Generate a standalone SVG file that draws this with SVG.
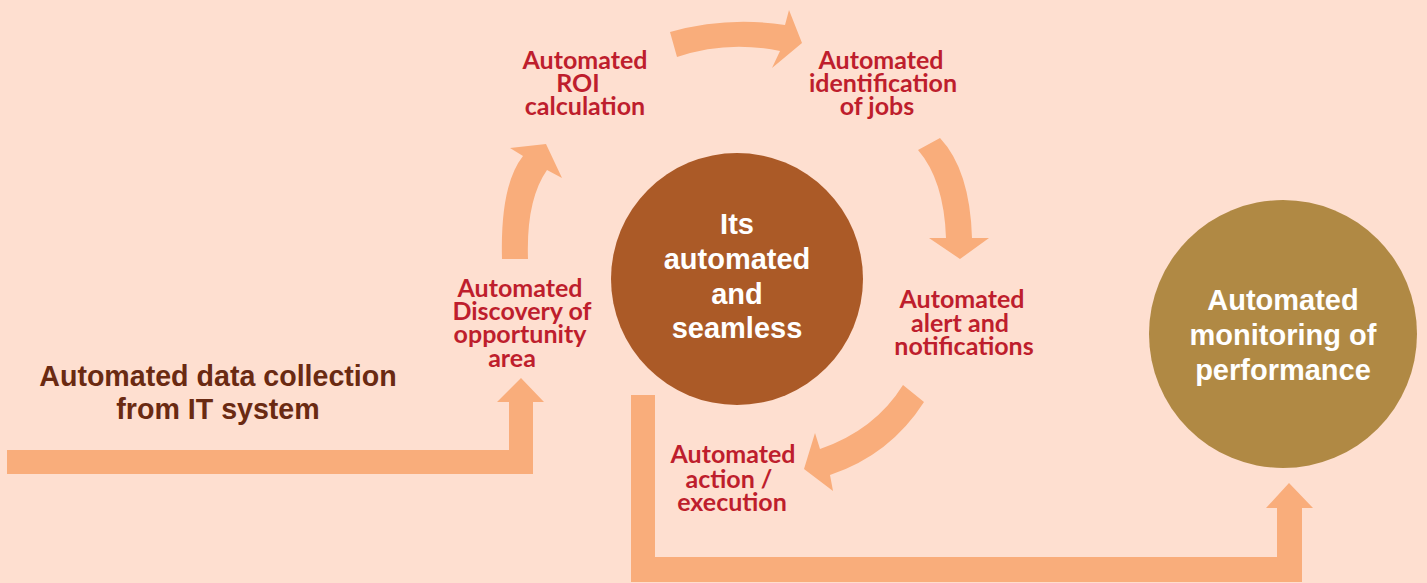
<svg xmlns="http://www.w3.org/2000/svg" width="1427" height="583" viewBox="0 0 1427 583">
<style>
.arrow{fill:#F9AD7B;}
.lbl{font-family:"Lato","Carlito","Liberation Sans",sans-serif;font-weight:bold;font-size:25px;fill:#BE1E2D;text-anchor:middle;}
.circ{font-family:"Liberation Sans",Arial,sans-serif;font-weight:bold;font-size:29px;fill:#FFFFFF;text-anchor:middle;}
.side{font-family:"Liberation Sans",Arial,sans-serif;font-weight:bold;font-size:28.6px;fill:#6A2A12;text-anchor:middle;}
</style>
<rect x="0" y="0" width="1427" height="583" fill="#FEDFD0"/>
<g id="connectors">
  <path class="arrow" d="M7,450 L509,450 L509,402 L497,402 L521,378 L544,402 L533,402 L533,474 L7,474 Z"/>
  <path class="arrow" d="M631,395 L655,395 L655,557 L1277,557 L1277,508 L1266,508 L1289,483 L1313,508 L1302,508 L1302,582 L631,582 Z"/>
  <path class="arrow" d="M502,259 Q500,185 523,156 L510,148 L546,144 L562,178 L547,170 Q526,200 528,259 Z"/>
  <path class="arrow" d="M670,32 Q727,16 785,25 L789,10 L802,43 L772,68 L780,51 Q727,40 677,57 Z"/>
  <path class="arrow" d="M918,150 L940,138 Q970,170 972,238 L989,238 L960,259 L929,238 L946,238 Q944,180 918,150 Z"/>
  <path class="arrow" d="M903,385 L924,402 Q890,455 830,475 L833,491 L804,469 L815,433 L820,449 Q875,430 903,385 Z"/>
</g>
<g id="data-collection">
  <text class="side" x="218" y="386">Automated data collection</text>
  <text class="side" x="218" y="419">from IT system</text>
</g>
<g id="discovery">
  <text class="lbl" x="520" y="297">Automated</text>
  <text class="lbl" x="522" y="320">Discovery of</text>
  <text class="lbl" x="520" y="343">opportunity</text>
  <text class="lbl" x="512" y="367">area</text>
</g>
<g id="roi">
  <text class="lbl" x="585" y="69">Automated</text>
  <text class="lbl" x="578" y="92">ROI</text>
  <text class="lbl" x="585" y="115">calculation</text>
</g>
<g id="identification">
  <text class="lbl" x="881" y="69">Automated</text>
  <text class="lbl" x="883" y="92">identification</text>
  <text class="lbl" x="877" y="115">of jobs</text>
</g>
<g id="alert">
  <text class="lbl" x="962" y="308">Automated</text>
  <text class="lbl" x="960" y="332">alert and</text>
  <text class="lbl" x="964" y="355">notifications</text>
</g>
<g id="action">
  <text class="lbl" x="733" y="463">Automated</text>
  <text class="lbl" x="729" y="488">action /</text>
  <text class="lbl" x="732" y="511">execution</text>
</g>
<g id="center">
  <circle cx="737" cy="279" r="126" fill="#AB5A27"/>
  <text class="circ" x="737" y="234">Its</text>
  <text class="circ" x="737" y="269">automated</text>
  <text class="circ" x="737" y="304">and</text>
  <text class="circ" x="737" y="338">seamless</text>
</g>
<g id="monitoring">
  <circle cx="1283" cy="334" r="134" fill="#B08944"/>
  <text class="circ" x="1283" y="310">Automated</text>
  <text class="circ" x="1283" y="345">monitoring of</text>
  <text class="circ" x="1283" y="380">performance</text>
</g>
</svg>
